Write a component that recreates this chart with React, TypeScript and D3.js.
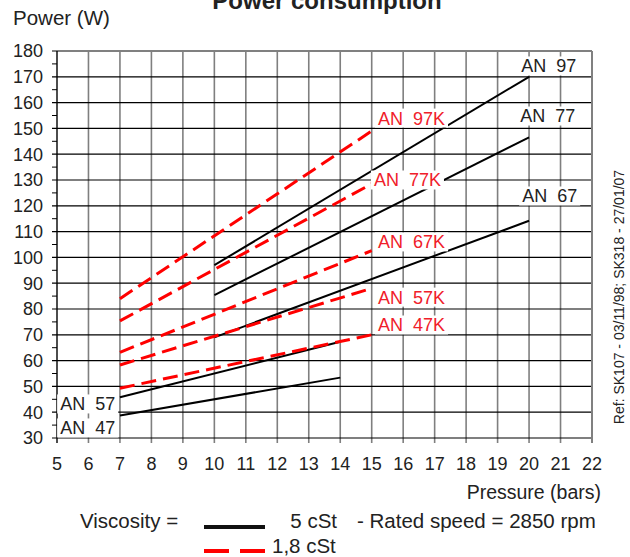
import React, { useEffect, useRef } from 'react';
import * as d3 from 'd3';

// 5 cSt curves (black, solid)
const solidNames = ['AN 97', 'AN 77', 'AN 67', 'AN 57', 'AN 47'];
const solidPressure = [[10, 20], [10, 20], [10, 20], [7, 14], [7, 14]];
const solidPower = [[97, 170], [85.4, 146.5], [69, 114.2], [45.8, 67.3], [38.7, 53.4]];

// 1,8 cSt curves (red, dashed)
const dashedNames = ['AN 97K', 'AN 77K', 'AN 67K', 'AN 57K', 'AN 47K'];
const dashedPressure = [[7, 15], [7, 15], [7, 15], [7, 15], [7, 15]];
const dashedPower = [[84, 149], [75.4, 128.5], [63.2, 102.6], [58.3, 88], [49.3, 70]];

// where each curve name sits (pressure, power)
const solidLabelAt = [[19.75, 174.2], [19.72, 154.8], [19.78, 123.8], [5.1, 43.2], [5.1, 33.9]];
const dashedLabelAt = [[15.2, 154], [15.07, 130], [15.2, 106], [15.2, 84.6], [15.2, 73.8]];

const xTicks = d3.range(5, 23);
const yTicks = d3.range(30, 181, 10);
const yMinorTicks = d3.range(35, 180, 10);

const FONT = '"Liberation Sans", Arial, sans-serif';
const RED = '#ff0000';
const TEXT = '#222';

const App = () => {
  const ref = useRef(null);

  useEffect(() => {
    const svg = d3.select(ref.current);
    svg.selectAll('*').remove();

    const x = d3.scaleLinear().domain([5, 22]).range([57, 592]);
    const y = d3.scaleLinear().domain([30, 180]).range([438, 51]);

    // grille
    const grid = svg.append('g');
    grid.selectAll('.vline')
      .data(xTicks.filter(d => d > 5 && d < 22))
      .enter().append('line')
      .attr('x1', d => x(d)).attr('x2', d => x(d))
      .attr('y1', y(180)).attr('y2', y(30) + 5)
      .style('stroke', '#7f7f7f').style('stroke-width', 1.6);

    grid.selectAll('.hline')
      .data(yTicks.filter(d => d < 180))
      .enter().append('line')
      .attr('x1', x(5) - 5).attr('x2', x(22))
      .attr('y1', d => y(d)).attr('y2', d => y(d))
      .style('stroke', '#000').style('stroke-width', 1.2);

    grid.selectAll('.minor')
      .data(yMinorTicks)
      .enter().append('line')
      .attr('x1', x(5) - 5).attr('x2', x(5))
      .attr('y1', d => y(d)).attr('y2', d => y(d))
      .style('stroke', '#000').style('stroke-width', 1);

    // cadre
    grid.append('line')
      .attr('x1', x(5) - 5).attr('x2', x(22)).attr('y1', y(180)).attr('y2', y(180))
      .style('stroke', '#808080').style('stroke-width', 2);
    grid.append('line')
      .attr('x1', x(22)).attr('x2', x(22)).attr('y1', y(180)).attr('y2', y(30) + 5)
      .style('stroke', '#808080').style('stroke-width', 2);
    grid.append('line')
      .attr('x1', x(5)).attr('x2', x(5)).attr('y1', y(180)).attr('y2', y(30) + 5)
      .style('stroke', '#000').style('stroke-width', 1.4);

    // textes des axes
    svg.append('g').selectAll('text')
      .data(yTicks)
      .enter().append('text')
      .attr('x', 43).attr('y', d => y(d))
      .attr('dy', '0.36em')
      .attr('text-anchor', 'end')
      .style('font-family', FONT).style('font-size', '18px').style('fill', TEXT)
      .text(d => d);

    svg.append('g').selectAll('text')
      .data(xTicks)
      .enter().append('text')
      .attr('x', d => x(d)).attr('y', 470)
      .attr('text-anchor', 'middle')
      .style('font-family', FONT).style('font-size', '18px').style('fill', TEXT)
      .text(d => d);

    // courbes
    const line = d3.line().x(d => x(d[0])).y(d => y(d[1]));

    const solid = solidNames.map((name, i) => ({
      name,
      pts: solidPressure[i].map((p, j) => [p, solidPower[i][j]]),
      at: solidLabelAt[i]
    }));
    const dashed = dashedNames.map((name, i) => ({
      name,
      pts: dashedPressure[i].map((p, j) => [p, dashedPower[i][j]]),
      at: dashedLabelAt[i]
    }));

    svg.append('g').selectAll('path')
      .data(solid)
      .enter().append('path')
      .attr('d', d => line(d.pts))
      .style('fill', 'none').style('stroke', '#000').style('stroke-width', 2);

    svg.append('g').selectAll('path')
      .data(dashed)
      .enter().append('path')
      .attr('d', d => line(d.pts))
      .style('fill', 'none').style('stroke', RED).style('stroke-width', 3)
      .style('stroke-dasharray', '15,7');

    // étiquettes sur fond blanc
    const addLabel = (d, color) => {
      const g = svg.append('g');
      const rect = g.append('rect').style('fill', '#fff');
      const t = g.append('text')
        .attr('x', x(d.at[0])).attr('y', y(d.at[1]))
        .attr('dy', '0.36em')
        .attr('xml:space', 'preserve')
        .style('font-family', FONT).style('font-size', '18px').style('fill', color)
        .text(d.name.replace(' ', '  '));
      const bb = t.node().getBBox();
      rect.attr('x', bb.x - 3).attr('y', y(d.at[1]) - 9.5)
        .attr('width', bb.width + 6).attr('height', 19);
    };
    solid.forEach(d => addLabel(d, TEXT));
    dashed.forEach(d => addLabel(d, '#f0202a'));

    // titres
    svg.append('text')
      .attr('x', 327).attr('y', 9)
      .attr('text-anchor', 'middle')
      .style('font-family', FONT).style('font-size', '24px').style('font-weight', 'bold').style('fill', TEXT)
      .text('Power consumption');

    svg.append('text')
      .attr('x', 13).attr('y', 25)
      .style('font-family', FONT).style('font-size', '20.5px').style('fill', TEXT)
      .text('Power (W)');

    svg.append('text')
      .attr('x', 601).attr('y', 499)
      .attr('text-anchor', 'end')
      .style('font-family', FONT).style('font-size', '19.5px').style('fill', TEXT)
      .text('Pressure (bars)');

    svg.append('text')
      .attr('transform', 'translate(624,297) rotate(-90)')
      .attr('text-anchor', 'middle')
      .style('font-family', FONT).style('font-size', '14px').style('fill', TEXT)
      .text('Ref: SK107 - 03/11/98; SK318 - 27/01/07');

    // légende
    const legend = svg.append('g')
      .style('font-family', FONT).style('font-size', '20.5px').style('fill', TEXT);
    legend.append('text').attr('x', 80).attr('y', 528).text('Viscosity =');
    legend.append('line')
      .attr('x1', 204).attr('x2', 265).attr('y1', 527).attr('y2', 527)
      .style('stroke', '#111').style('stroke-width', 4);
    legend.append('text').attr('x', 337).attr('y', 528).attr('text-anchor', 'end').text('5 cSt');
    legend.append('text').attr('x', 357).attr('y', 528).text('- Rated speed = 2850 rpm');
    legend.append('line')
      .attr('x1', 204).attr('x2', 265).attr('y1', 551).attr('y2', 551)
      .style('stroke', RED).style('stroke-width', 4)
      .style('stroke-dasharray', '25,11');
    legend.append('text').attr('x', 272).attr('y', 553).text('1,8 cSt');
  }, []);

  return (
    <svg ref={ref} width={630} height={557}
      style={{ position: 'absolute', left: 0, top: 0, background: '#fff' }} />
  );
};

export default App;
